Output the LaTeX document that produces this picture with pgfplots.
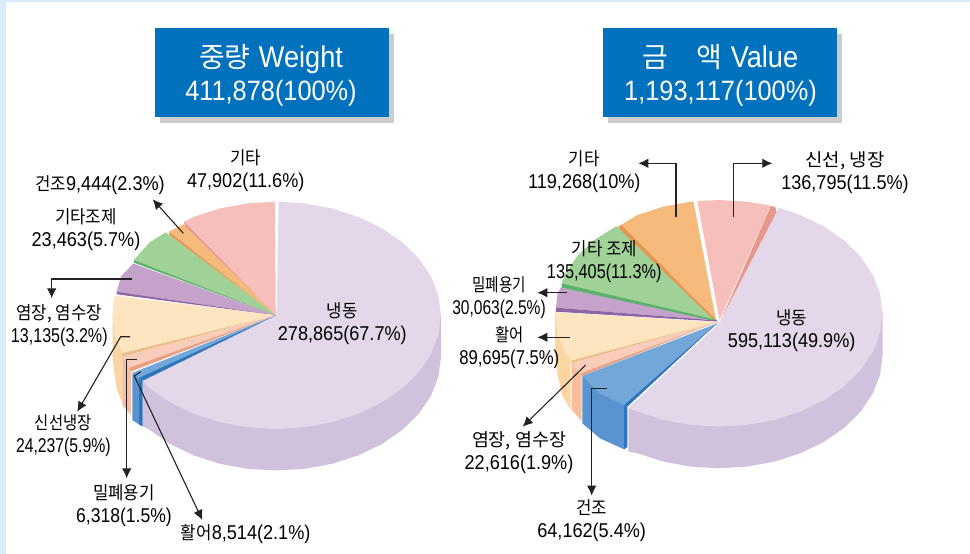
\documentclass[border=0pt]{standalone}
\usepackage{fontspec}
\setmainfont[FakeStretch=0.905]{Liberation Sans}
\newfontfamily\kr[FakeStretch=0.93,Scale=0.9]{Noto Sans CJK KR}
\newfontfamily\krT{Noto Sans CJK KR}
\usepackage{pgfplots}
\pgfplotsset{compat=1.18}
\usetikzlibrary{arrows.meta}
\definecolor{frame}{HTML}{D9EDFB}
\definecolor{boxblue}{HTML}{0071BC}
\definecolor{boxshadow}{HTML}{CCCCCC}
\definecolor{lilac}{HTML}{E4D7EA}
\definecolor{lilacS}{HTML}{D0C1DC}
\definecolor{pinkT}{HTML}{F7BFBC}
\definecolor{pinkE}{HTML}{E7978B}
\definecolor{orangeT}{HTML}{F6BB7C}
\definecolor{orangeE}{HTML}{E8944F}
\definecolor{greenT}{HTML}{A0D197}
\definecolor{greenE}{HTML}{5BB26A}
\definecolor{purpleT}{HTML}{C4A2C9}
\definecolor{purpleE}{HTML}{8E65A5}
\definecolor{creamT}{HTML}{FDE5C0}
\definecolor{creamS}{HTML}{FBD6A3}
\definecolor{creamE}{HTML}{EDBE8C}
\definecolor{salmonT}{HTML}{F9CDB9}
\definecolor{salmonS}{HTML}{F7BD9C}
\definecolor{salmonE}{HTML}{E89F80}
\definecolor{blueT}{HTML}{73A7DA}
\definecolor{blueS}{HTML}{5A93CF}
\definecolor{blueE}{HTML}{2E76BB}
\definecolor{inkline}{HTML}{222222}
\newcommand{\poly}[2]{\addplot[fill=#1,draw=none,mark=none,forget plot] coordinates {#2};}
\newcommand{\arr}[1]{\addplot[inkline,line width=1.1pt,mark=none,forget plot,-{Latex[length=10pt,width=9.5pt]}] coordinates {#1};}
\newcommand{\lab}[3]{\node[font=\fontsize{20}{23}\selectfont,align=center,text=black,inner sep=0pt] at (axis cs:#1,#2) {#3};}
\newcommand{\ttl}[3]{\node[font=\fontsize{28}{33}\selectfont,align=center,text=white,inner sep=0pt] at (axis cs:#1,#2) {#3};}
\newcommand{\tk}[1]{{\fontsize{28}{33}\selectfont\krT #1}}
\newcommand{\tw}[1]{{\fontsize{30}{33}\selectfont #1}}
\newcommand{\sx}[2]{\scalebox{#1}[1]{#2}}
\begin{document}
\begin{tikzpicture}
\begin{axis}[scale only axis,width=970pt,height=554pt,xmin=0,xmax=970,ymin=0,ymax=554,y dir=reverse,axis lines=none,clip=true]
% frame
\poly{frame}{(0,0)(970,0)(970,2)(6,2)(6,554)(0,554)}
% title boxes
\poly{boxshadow}{(160,34)(394,34)(394,122.7)(160,122.7)}
\poly{boxblue}{(155,28)(389,28)(389,116.7)(155,116.7)}
\poly{boxshadow}{(608,34)(842,34)(842,122.7)(608,122.7)}
\poly{boxblue}{(603,28)(837,28)(837,116.7)(603,116.7)}
% LEFT PIE
\poly{lilacS}{(441,315.3)(441,356.9)(438.5,376.6)(431,395.8)(418.9,413.7)(402.4,429.9)(382.1,443.9)(358.5,455.3)(332.4,463.7)(304.7,468.8)(276,470.5)(247.3,468.8)(219.6,463.7)(193.5,455.3)(169.9,443.9)(149.6,429.9)(142.7,426)(142.7,380.7)(276,315.3)}
\poly{lilac}{(276.6,315.3)(278.7,201.7)(304.7,203.4)(332.4,208.5)(358.5,216.9)(382.1,228.3)(402.4,242.3)(418.9,258.5)(431,276.4)(438.5,295.6)(441,315.3)(438.5,335)(431,354.2)(418.9,372.1)(402.4,388.3)(382.1,402.3)(358.5,413.7)(332.4,422.1)(304.7,427.2)(276,428.9)(247.3,427.2)(219.6,422.1)(193.5,413.7)(169.9,402.3)(149.6,388.3)(142.7,380.7)}
\poly{creamS}{(112.5,315.3)(112.5,357)(115,378)(117,390)(121.7,402)(122.3,356)}
\poly{salmonS}{(122.3,354)(122.3,405)(131,415)(131,368)}
\poly{blueS}{(132.3,373)(132.3,420)(139,424.5)(139,378)}
\poly{blueE}{(139,378)(139,424.5)(142.7,426.5)(142.7,380.7)}
\poly{pinkT}{(275.8,315.3)(275,201.7)(247.3,203.4)(219.6,208.5)(193.5,216.9)(184,221.7)}
\poly{pinkE}{(275.8,315.3)(184,221.7)(185,226.7)}
\poly{orangeT}{(275.8,315.3)(183.3,224.3)(169,231.7)}
\poly{orangeE}{(275.8,315.3)(169,231.7)(169.7,235.3)}
\poly{greenT}{(275.8,315.3)(165.7,232.3)(149.6,242.3)(134,260)}
\poly{greenE}{(275.8,315.3)(134,260)(134,262.7)}
\poly{purpleT}{(275.8,315.3)(133.3,263.5)(121,276.4)(116.7,291.7)}
\poly{purpleE}{(275.8,315.3)(116.7,291.7)(116.7,294.3)}
\poly{creamT}{(275.8,315.3)(115,295.7)(113.2,305)(112.5,315.3)(114.5,335)(121.7,353.3)}
\poly{creamE}{(275.8,315.3)(121.7,353.3)(122.3,356.7)}
\poly{salmonT}{(275.8,315.3)(122.3,356.7)(130,367.5)}
\poly{salmonE}{(275.8,315.3)(130,367.5)(131,371.5)}
\poly{blueT}{(275.8,315.3)(132,373)(139,378.5)}
\poly{blueE}{(275.8,315.3)(139,378)(142.7,380.7)}
% RIGHT PIE
\poly{lilacS}{(882.6,313.3)(882.6,355)(880.1,374.7)(872.7,393.8)(860.7,411.7)(844.3,427.8)(824.1,441.8)(800.7,453.1)(774.8,461.5)(747.2,466.6)(718.8,468.3)(690.4,466.6)(662.8,461.5)(636.9,453.1)(628.3,451.7)(628.3,408.3)(720,323)}
\poly{lilac}{(720,323)(776.5,212)(778.5,207.5)(800.7,215.2)(824.1,226.5)(844.3,240.5)(860.7,256.6)(872.7,274.5)(880.1,293.6)(882.6,313.3)(880.1,333)(872.7,352.1)(860.7,370)(844.3,386.1)(824.1,400.1)(800.7,411.4)(774.8,419.8)(747.2,424.9)(718.8,426.6)(690.4,424.9)(662.8,419.8)(636.9,411.4)(628.3,408.3)}
\poly{creamS}{(555,313.3)(555,355)(557.5,374.7)(562,395)(570.7,410)(570.7,360.7)}
\poly{salmonS}{(571.7,363.3)(571.7,410)(581.7,421)(581.7,375)}
\poly{blueS}{(582.3,376)(582.3,423.3)(600,438.3)(624,449.3)(624,405)}
\poly{blueE}{(624,405)(624,449.3)(627.3,447)(627.3,406.7)}
\poly{pinkT}{(719.5,320)(697.3,201)(718.8,200)(747.2,201.7)(770.7,205.7)}
\poly{pinkE}{(720,322)(771,205.7)(775.5,207.5)(776.5,212)}
\poly{orangeT}{(716,320)(693.5,201.7)(690.4,201.7)(662.8,206.8)(636.9,215.2)(621,225)}
\poly{greenT}{(717,320.5)(616.7,226)(593.3,240.5)(576.9,256.6)(564.9,274.5)(561.7,283.3)}
\poly{orangeE}{(716,320)(621,224.5)(618,227.5)(715,321)}
\poly{purpleT}{(717,320.5)(561,287.3)(557.5,293.6)(556,307.7)}
\poly{greenE}{(717,320)(561.7,283.3)(561.5,287.5)(717,321.5)}
\poly{purpleE}{(717,320.5)(556,307.7)(555.7,311.7)(717,321.5)}
\poly{creamT}{(717,322)(555,312.3)(555,313.3)(557.5,333)(564.9,352.1)(570.7,360.7)}
\poly{creamE}{(717,322)(570.7,360.7)(571.7,363.3)}
\poly{salmonT}{(717,322)(571.7,363.3)(581,373.3)}
\poly{salmonE}{(717,322)(581,373.3)(582,376)}
\poly{blueT}{(718,323)(582.3,376)(600,393.5)(624,405)}
\poly{blueE}{(718.5,322)(624,405)(627.3,406.7)}
% leader lines and arrows
\arr{(183.3,233.3)(152.7,199.3)}
\arr{(132.3,279)(51.7,279)(51.7,298.3)}
\arr{(130,336.7)(120.7,336.7)(77.3,411.7)}
\arr{(136.7,359.3)(126.7,359.3)(126.7,478.3)}
\arr{(140.7,371.7)(134.3,376)(202.3,520)}
\arr{(676,217.3)(676,163.3)(638.3,163.3)}
\arr{(733.7,217.3)(733.7,163.3)(772.3,163.3)}
\arr{(566.7,292.7)(537.3,292.7)}
\arr{(570,337.3)(537.3,337.3)}
\arr{(585.7,365)(522.7,426.7)}
\arr{(606.7,388.3)(591.7,388.3)(591.7,495.7)}
% titles
\ttl{271}{75.5}{\tk{중량}\hspace{0.3em}\tw{Weight}\\411,878(100\%)}
\ttl{720.5}{75.5}{\tk{금}\hspace{1.0em}\tk{액}\hspace{0.3em}\tw{Value}\\1,193,117(100\%)}
% labels left
\lab{245.7}{171}{{\kr 기타}\\47,902(11.6\%)}
\lab{100}{184.8}{{\kr 건조}9,444(2.3\%)}
\lab{86}{229.5}{{\kr 기타조제}\\23,463(5.7\%)}
\lab{59.3}{326}{{\kr 염장, 염수장}\\\sx{0.89}{13,135(3.2\%)}}
\lab{342.3}{324}{{\kr 냉동}\\278,865(67.7\%)}
\lab{63.3}{436}{\sx{0.92}{\kr 신선냉장}\\\sx{0.87}{24,237(5.9\%)}}
\lab{124}{505.5}{{\kr 밀폐용기}\\\sx{0.97}{6,318(1.5\%)}}
\lab{245.7}{534.5}{{\kr 활어}8,514(2.1\%)}
% labels right
\lab{584.3}{172}{{\kr 기타}\\119,268(10\%)}
\lab{845}{172.5}{\sx{1.13}{\kr 신선, 냉장}\\136,795(11.5\%)}
\lab{604.3}{261.5}{{\kr 기타 조제}\\\sx{0.9}{135,405(11.3\%)}}
\lab{499}{298}{\sx{0.87}{\kr 밀폐용기}\\\sx{0.86}{30,063(2.5\%)}}
\lab{509.3}{348}{\sx{0.92}{\kr 활어}\\\sx{0.92}{89,695(7.5\%)}}
\lab{791.7}{330.5}{{\kr 냉동}\\595,113(49.9\%)}
\lab{519}{453}{\sx{1.1}{\kr 염장, 염수장}\\22,616(1.9\%)}
\lab{591.7}{521}{{\kr 건조}\\64,162(5.4\%)}
\end{axis}
\end{tikzpicture}
\end{document}
